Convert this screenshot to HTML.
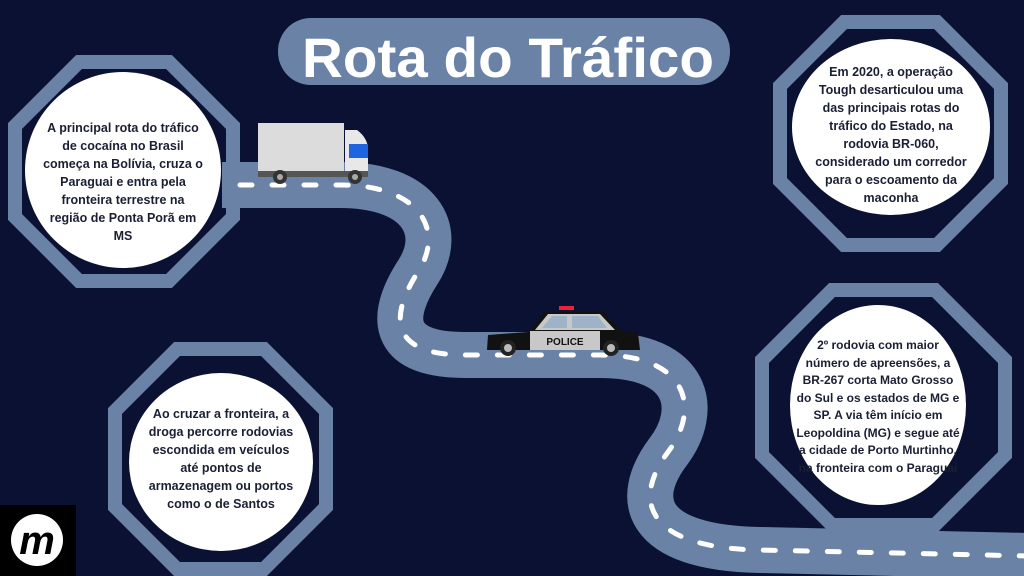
<!DOCTYPE html>
<html><head><meta charset="utf-8"><style>
body{margin:0;width:1024px;height:576px;overflow:hidden;background:#0a1132;font-family:"Liberation Sans",sans-serif}
.t{position:absolute;text-align:center;font-weight:bold;color:#1b1f33;font-size:12.5px;line-height:18px;white-space:nowrap}
</style></head><body>
<svg width="1024" height="576" style="position:absolute;left:0;top:0">
<g fill="none" stroke="#6982a6" stroke-width="14" stroke-linejoin="miter">
<polygon points="79,62 169,62 233,126 233,217 169,281 79,281 15,217 15,126"/>
<polygon points="177,349 264,349 326,411 326,507 264,569 177,569 115,507 115,411"/>
<polygon points="844,22 937,22 1001,86 1001,181 937,245 844,245 780,181 780,86"/>
<polygon points="832,290 935,290 1005,360 1005,455 935,525 832,525 762,455 762,360"/>
</g>
<path d="M 222 185 L 340 185 C 420 185, 445 230, 418 272 C 392 312, 385 355, 465 355 L 600 355 C 690 355, 700 410, 668 452 C 632 500, 645 548, 760 550 L 1030 556" fill="none" stroke="#6982a6" stroke-width="46"/>
<path d="M 240 185 L 340 185 C 420 185, 445 230, 418 272 C 392 312, 385 355, 465 355 L 600 355 C 690 355, 700 410, 668 452 C 632 500, 645 548, 760 550 L 1030 556" fill="none" stroke="#fff" stroke-width="5" stroke-dasharray="12 20" stroke-linecap="round"/>
<circle cx="123" cy="170" r="98" fill="#fff"/>
<ellipse cx="221" cy="462" rx="92" ry="89" fill="#fff"/>
<ellipse cx="891" cy="127" rx="99" ry="88" fill="#fff"/>
<ellipse cx="878" cy="405" rx="88" ry="100" fill="#fff"/>
<rect x="258" y="123" width="86" height="48" fill="#dcdcdc"/>
<path d="M345 130 L357 130 Q368 138 368 150 L368 177 L345 177 Z" fill="#e8e8e8"/>
<rect x="349" y="144" width="19" height="14" fill="#1e63e0"/>
<rect x="258" y="171" width="110" height="6" fill="#555"/>
<circle cx="280" cy="177" r="7" fill="#333"/><circle cx="280" cy="177" r="3" fill="#aaa"/>
<circle cx="355" cy="177" r="7" fill="#333"/><circle cx="355" cy="177" r="3" fill="#aaa"/>
<rect x="559" y="306" width="15" height="4" fill="#e23"/>
<path d="M528 332 L545 312 L603 312 L620 330 L638 333 L640 350 L487 350 L488 335 Z" fill="#111"/>
<path d="M535 330 L548 314 L600 314 L615 330 Z" fill="#c8c8c8"/>
<path d="M542 328 L552 316 L567 316 L567 328 Z M572 328 L572 316 L598 316 L607 328 Z" fill="#9fb3c8"/>
<rect x="530" y="331" width="70" height="19" fill="#c8c8c8"/>
<text x="565" y="345" font-size="10" font-weight="bold" text-anchor="middle" fill="#111" font-family="Liberation Sans">POLICE</text>
<circle cx="508" cy="348" r="8" fill="#222"/><circle cx="508" cy="348" r="4" fill="#bbb"/>
<circle cx="611" cy="348" r="8" fill="#222"/><circle cx="611" cy="348" r="4" fill="#bbb"/>
<rect x="278" y="18" width="452" height="67" rx="33" fill="#6982a6"/>
<text x="508" y="77" font-size="56" font-weight="bold" text-anchor="middle" fill="#fff" font-family="Liberation Sans" textLength="412" lengthAdjust="spacingAndGlyphs">Rota do Tráfico</text>
<rect x="0" y="505" width="76" height="71" fill="#000"/>
<circle cx="37" cy="540" r="26" fill="#fff"/>
<text x="37" y="554" font-size="40" font-weight="bold" font-style="italic" text-anchor="middle" fill="#000" font-family="Liberation Sans">m</text>
</svg>
<div class="t" style="left:23px;top:119px;width:200px">A principal rota do tráfico<br>de cocaína no Brasil<br>começa na Bolívia, cruza o<br>Paraguai e entra pela<br>fronteira terrestre na<br>região de Ponta Porã em<br>MS</div>
<div class="t" style="left:121px;top:405px;width:200px">Ao cruzar a fronteira, a<br>droga percorre rodovias<br>escondida em veículos<br>até pontos de<br>armazenagem ou portos<br>como o de  Santos</div>
<div class="t" style="left:791px;top:63px;width:200px">Em 2020, a operação<br>Tough desarticulou uma<br>das principais rotas do<br>tráfico do Estado, na<br>rodovia BR-060,<br>considerado um corredor<br>para o escoamento da<br>maconha</div>
<div class="t" style="left:778px;top:337px;width:200px;font-size:12px;line-height:17.5px">2º rodovia com maior<br>número de apreensões, a<br>BR-267 corta Mato Grosso<br>do Sul e os estados de MG e<br>SP. A via têm início em<br>Leopoldina (MG) e segue até<br>a cidade de Porto Murtinho,<br>na fronteira com o Paraguai</div>
</body></html>
